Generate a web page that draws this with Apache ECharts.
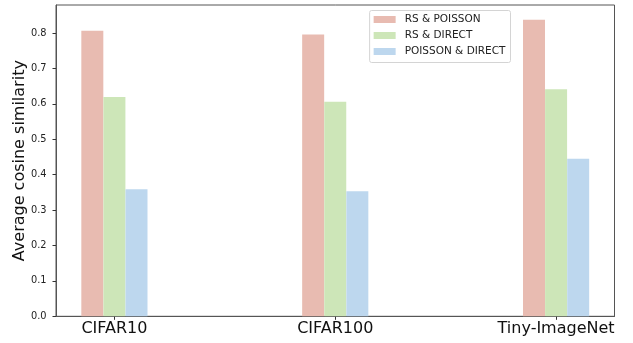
<!DOCTYPE html>
<html>
<head>
<meta charset="utf-8">
<script src="https://cdn.jsdelivr.net/npm/echarts@6/dist/echarts.min.js"></script>
<style>html,body{margin:0;padding:0;background:#fff}#c{width:633px;height:343px}</style>
</head>
<body>
<div id="c"></div>
<script>
const categories = ['CIFAR10', 'CIFAR100', 'Tiny-ImageNet'];
const seriesNames = ['RS & POISSON', 'RS & DIRECT', 'POISSON & DIRECT'];
const rsPoisson = [0.806, 0.796, 0.837];
const rsDirect = [0.619, 0.606, 0.641];
const poissonDirect = [0.359, 0.353, 0.445];
const yTicks = [0, 0.1, 0.2, 0.3, 0.4, 0.5, 0.6, 0.7, 0.8];
const colors = ['#e8bbb1', '#cde6b8', '#bdd7ee'];

const values = [rsPoisson, rsDirect, poissonDirect];
const offsets = [-0.1, 0, 0.1];
const catIdx = categories.map((_, i) => i);

const chart = echarts.init(document.getElementById('c'), null, {renderer: 'canvas'});
const font = 'DejaVu Sans';
chart.setOption({
  animation: false,
  textStyle: {fontFamily: font},
  grid: {left: 56, right: 18.5, top: 5, bottom: 26.7, show: true, borderColor: '#555', borderWidth: 1, backgroundColor: 'transparent', containLabel: false, outerBoundsMode: 'none'},
  legend: {
    orient: 'vertical', right: 122.5, top: 10.5,
    itemWidth: 22, itemHeight: 7, itemGap: 4, icon: 'rect',
    padding: [3, 5, 5, 4],
    borderColor: '#d4d4d4', borderWidth: 1, borderRadius: 2,
    backgroundColor: 'rgba(255,255,255,0.8)',
    textStyle: {fontFamily: font, fontSize: 10.5, color: '#222', lineHeight: 12, padding: [0, 0, 0, 4]},
    data: seriesNames
  },
  xAxis: {
    type: 'value', min: -0.2645, max: 2.2645,
    splitLine: {show: false},
    axisLine: {show: true, onZero: false, lineStyle: {color: '#555', width: 1}},
    axisTick: {show: true, customValues: catIdx, length: 3.5, lineStyle: {color: '#333'}},
    axisLabel: {customValues: catIdx, formatter: v => categories[Math.round(v)] || '', fontSize: 16, color: '#111', margin: 5, fontFamily: font}
  },
  yAxis: {
    type: 'value', min: 0, max: 0.879,
    name: 'Average cosine similarity', nameLocation: 'middle', nameGap: 28, nameMoveOverlap: false,
    nameTextStyle: {fontSize: 16, color: '#111', fontFamily: font},
    splitLine: {show: false},
    axisLine: {show: true, onZero: false, lineStyle: {color: '#555', width: 1}},
    axisTick: {show: true, customValues: yTicks, length: 3.5, lineStyle: {color: '#333'}},
    axisLabel: {customValues: yTicks, formatter: v => v.toFixed(1), fontSize: 9.8, color: '#222', margin: 9.5, fontFamily: font}
  },
  series: seriesNames.map((name, s) => ({
    name, type: 'bar', barWidth: 22, barGap: '-100%',
    itemStyle: {color: colors[s]},
    data: categories.map((_, i) => [i + offsets[s], values[s][i]])
  }))
});
</script>
</body>
</html>
